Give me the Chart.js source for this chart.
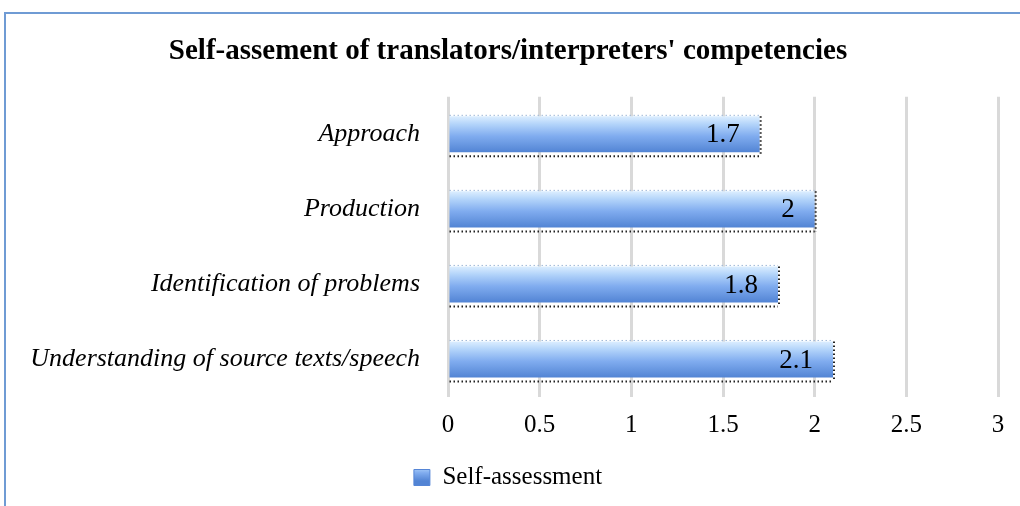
<!DOCTYPE html>
<html>
<head>
<meta charset="utf-8">
<script src="https://cdn.jsdelivr.net/npm/chart.js@4/dist/chart.umd.min.js"></script>
<style>
  html, body { margin: 0; padding: 0; background: #fff; }
  #wrap { position: relative; width: 1020px; height: 506px; }
  #frame { position: absolute; left: 4px; top: 12px; width: 1030px; height: 510px;
           border-top: 2px solid #6f9bd4; border-left: 2px solid #6f9bd4; pointer-events: none; }
</style>
</head>
<body>
<div id="wrap">
  <canvas id="c" width="1020" height="506"></canvas>
  <div id="frame"></div>
</div>
<script>
const categories = ['Approach', 'Production', 'Identification of problems', 'Understanding of source texts/speech'];
const values = [1.7, 2, 1.8, 2.1];
const seriesName = 'Self-assessment';
const xMin = 0, xMax = 3, xStep = 0.5;

function barGradient(ctx, top, bottom) {
  const g = ctx.createLinearGradient(0, top, 0, bottom);
  g.addColorStop(0, '#dceeff');
  g.addColorStop(0.22, '#b3d4fa');
  g.addColorStop(0.55, '#80acef');
  g.addColorStop(1, '#5284d4');
  return g;
}

// value labels + dotted shadow drawn on each bar element
const barExtras = {
  id: 'barExtras',
  afterDatasetsDraw(chart) {
    const ctx = chart.ctx;
    chart.getDatasetMeta(0).data.forEach((bar, i) => {
      const h = bar.height;
      const top = bar.y - h / 2, bottom = bar.y + h / 2;
      ctx.save();
      ctx.setLineDash([1.5, 2.5]);
      ctx.strokeStyle = '#222';
      ctx.lineWidth = 2;
      ctx.beginPath();
      ctx.moveTo(bar.base, bottom + 4);
      ctx.lineTo(bar.x, bottom + 4);
      ctx.moveTo(bar.x + 1, top);
      ctx.lineTo(bar.x + 1, bottom + 4);
      ctx.stroke();
      ctx.strokeStyle = '#9fb8d8';
      ctx.lineWidth = 1;
      ctx.beginPath();
      ctx.moveTo(bar.base, top - 1);
      ctx.lineTo(bar.x, top - 1);
      ctx.stroke();
      ctx.restore();
      ctx.save();
      ctx.font = '27px "Liberation Serif"';
      ctx.fillStyle = '#000';
      ctx.textAlign = 'right';
      ctx.textBaseline = 'middle';
      ctx.fillText(String(values[i]), bar.x - 20, bar.y + 1);
      ctx.restore();
    });
  }
};

new Chart(document.getElementById('c'), {
  type: 'bar',
  data: {
    labels: categories,
    datasets: [{
      label: seriesName,
      data: values,
      backgroundColor: (c) => {
        const chart = c.chart;
        const y = chart.scales && chart.scales.y;
        if (!y || c.dataIndex === undefined || !chart.chartArea) return '#7eaaee';
        const py = y.getPixelForValue(c.dataIndex);
        const h = (chart.chartArea.bottom - chart.chartArea.top) / categories.length * 0.48;
        return barGradient(chart.ctx, py - h / 2, py + h / 2);
      },
      borderWidth: 0,
      categoryPercentage: 1,
      barPercentage: 0.48
    }]
  },
  options: {
    indexAxis: 'y',
    responsive: false,
    animation: false,
    layout: { padding: { left: 18, right: 22, top: 0, bottom: 6 } },
    scales: {
      x: {
        min: xMin, max: xMax,
        afterFit: (s) => { s.height = 54; },
        ticks: { stepSize: xStep, color: '#000', padding: 13,
                 callback: (v) => String(v),
                 font: { family: '"Liberation Serif"', size: 25 } },
        grid: { color: '#d9d9d9', lineWidth: 3, tickLength: 0 },
        border: { display: false }
      },
      y: {
        afterFit: (s) => { s.width = 430; },
        ticks: { color: '#000', padding: 20,
                 font: { family: '"Liberation Serif"', size: 26, style: 'italic' } },
        grid: { display: false },
        border: { display: false }
      }
    },
    plugins: {
      title: {
        display: true,
        text: "Self-assement of translators/interpreters' competencies",
        color: '#000',
        font: { family: '"Liberation Serif"', size: 29, weight: 'bold' },
        padding: { top: 34, bottom: 28 }
      },
      legend: {
        position: 'bottom',
        labels: {
          color: '#595959',
          boxWidth: 16, boxHeight: 16,
          padding: 14,
          font: { family: '"Liberation Serif"', size: 25 },
          generateLabels: (chart) => [{
            text: seriesName,
            fillStyle: barGradient(chart.ctx, 463, 481),
            strokeStyle: '#5585d6',
            lineWidth: 1,
            datasetIndex: 0
          }]
        }
      },
      tooltip: { enabled: false }
    }
  },
  plugins: [barExtras]
});
</script>
</body>
</html>
